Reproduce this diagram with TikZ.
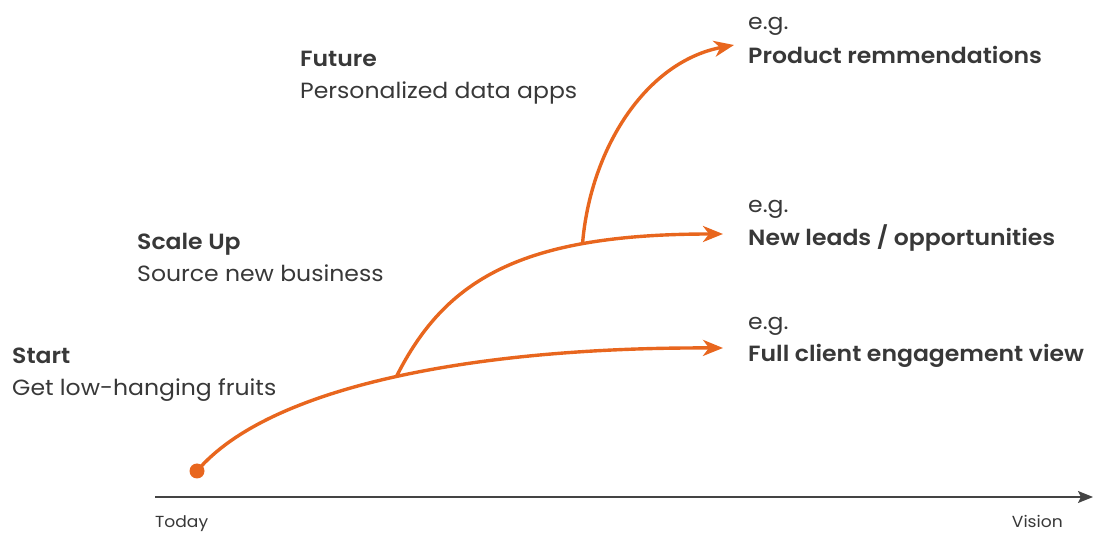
\documentclass[tikz,border=0pt]{standalone}
\usepackage{fontspec}
\setmainfont{Poppins}[FakeStretch=1.07,BoldFont={Poppins SemiBold}]
\usetikzlibrary{arrows.meta}
\definecolor{accent}{HTML}{E8661E}
\definecolor{ink}{HTML}{383838}
\definecolor{axisgray}{HTML}{444444}
\begin{document}
\begin{tikzpicture}[x=1pt,y=-1pt,
  lbl/.style={anchor=base west,inner sep=0pt,text=ink,font=\fontsize{22}{26}\selectfont},
  head/.style={lbl,font=\fontsize{22}{26}\selectfont\bfseries},
  small/.style={inner sep=0pt,text=ink,font=\fontsize{16}{19}\selectfont},
  growth/.style={draw=accent,line width=3.4pt,-{Stealth[length=20pt,width=16pt,inset=6pt]}}]
\useasboundingbox (0,0) rectangle (1093,534);

% time axis
\coordinate (today) at (155,497);
\coordinate (vision) at (1093,497);
\draw[axisgray,line width=1.4pt,-{Stealth[length=15pt,width=12pt,inset=3pt]}] (today) -- (vision);
\node[small,anchor=base west] (ltoday) at (155,528) {Today};
\node[small,anchor=base east] (lvision) at (1063,528) {Vision};

% stage labels
\node[head] (hstart) at (12,364) {Start};
\node[lbl] (tstart) at (12,396) {Get low-hanging fruits};
\node[head] (hscale) at (137,250) {Scale Up};
\node[lbl] (tscale) at (137,282) {Source new business};
\node[head] (hfuture) at (300,67) {Future};
\node[lbl] (tfuture) at (300,99) {Personalized data apps};

% outcome labels
\node[lbl] (eg1) at (748,330) {e.g.};
\node[head] (o1) at (748,362) {Full client engagement view};
\node[lbl] (eg2) at (748,213) {e.g.};
\node[head] (o2) at (748,246) {New leads / opportunities};
\node[lbl] (eg3) at (748,30) {e.g.};
\node[head] (o3) at (748,64) {Product remmendations};

% growth paths
\coordinate (p0) at (197,471);
\coordinate (e1) at (723,348);
\coordinate (e2) at (723,234);
\coordinate (e3) at (734,45);
\draw[growth] (p0) .. controls (270,385) and (480,347) .. coordinate[pos=0.5] (b1) (e1);
\draw[growth] (b1) .. controls (445,280) and (520,234) .. coordinate[pos=0.725] (b2) (e2);
\draw[growth] (b2) .. controls (590,150) and (645,62) .. (e3);
\fill[accent] (p0) circle (7.5);
\end{tikzpicture}
\end{document}
